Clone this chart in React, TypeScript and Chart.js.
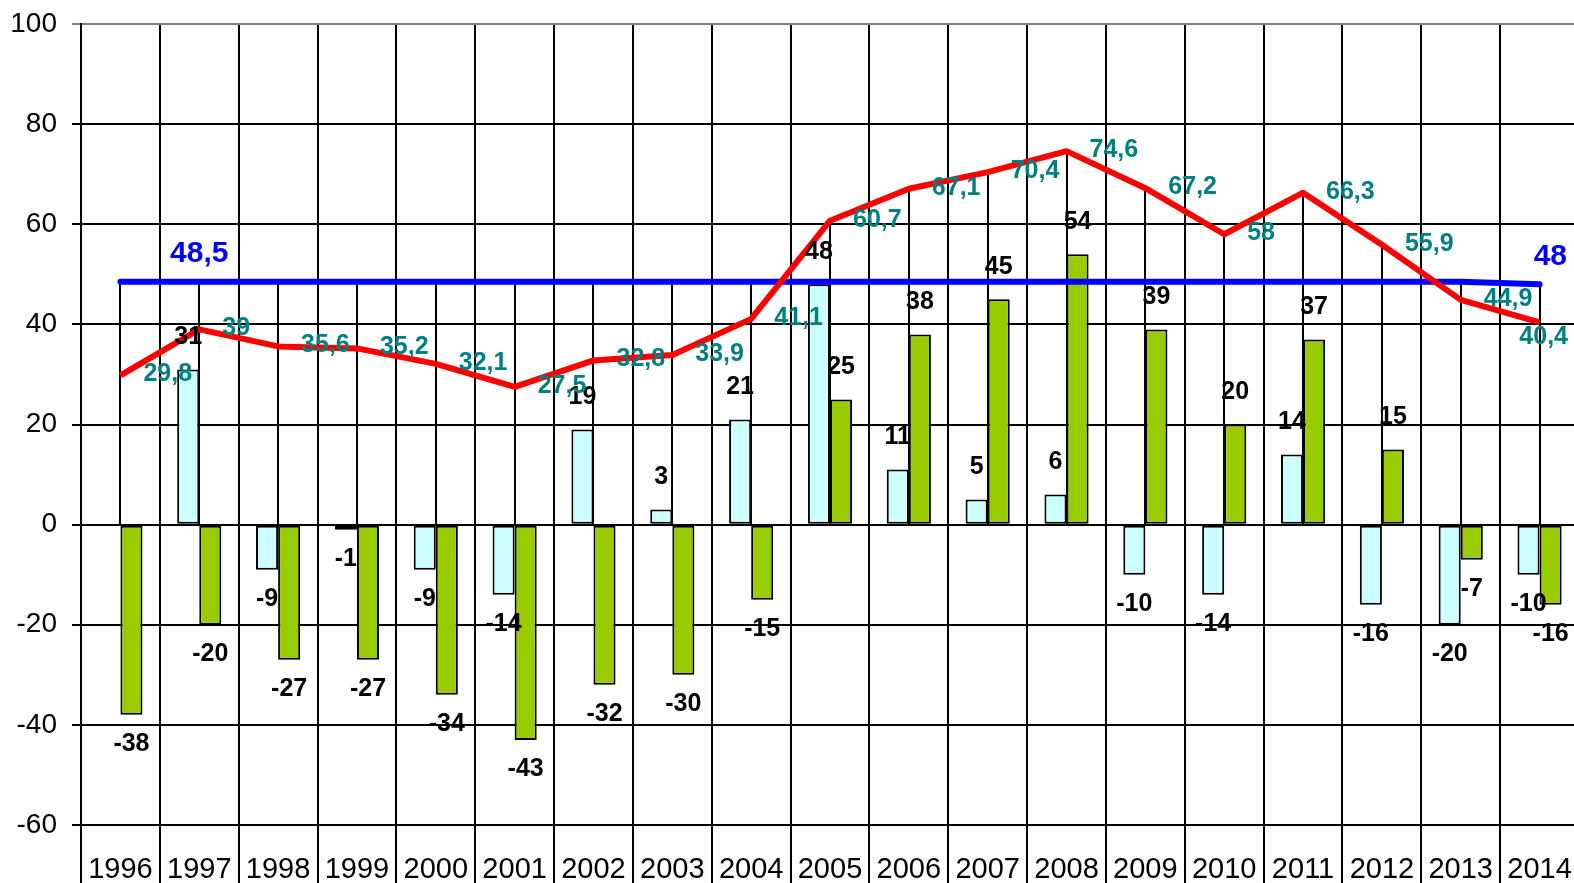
import React, { useEffect, useRef } from 'react';
import { Chart, registerables } from 'chart.js';

Chart.register(...registerables);

const years = ['1996', '1997', '1998', '1999', '2000', '2001', '2002', '2003', '2004', '2005', '2006', '2007', '2008', '2009', '2010', '2011', '2012', '2013', '2014'];
const cyanValues: (number | null)[] = [null, 31, -9, -1, -9, -14, 19, 3, 21, 48, 11, 5, 6, -10, -14, 14, -16, -20, -10];
const greenValues: number[] = [-38, -20, -27, -27, -34, -43, -32, -30, -15, 25, 38, 45, 54, 39, 20, 37, 15, -7, -16];
const redValues: number[] = [29.8, 39, 35.6, 35.2, 32.1, 27.5, 32.8, 33.9, 41.1, 60.7, 67.1, 70.4, 74.6, 67.2, 58, 66.3, 55.9, 44.9, 40.4];
const blueValues: number[] = [48.5, 48.5, 48.5, 48.5, 48.5, 48.5, 48.5, 48.5, 48.5, 48.5, 48.5, 48.5, 48.5, 48.5, 48.5, 48.5, 48.5, 48.5, 48];
const blueLabelIndexes: number[] = [1, 18];
const yMin = -60;
const yMax = 100;
const yStep = 20;

const VIEW_W = 1574;
const VIEW_H = 883;
const CANVAS_W = 1579;

const FONT = "'Liberation Sans', Arial, sans-serif";
const fmt = (v: number) => String(v).replace('.', ',');

const dropLinesPlugin = {
  id: 'dropLines',
  beforeDatasetsDraw(chart: any) {
    const { ctx } = chart;
    const xs = chart.scales.x;
    const ys = chart.scales.y;
    ctx.save();
    ctx.strokeStyle = '#000';
    ctx.lineWidth = 2;
    for (let i = 0; i < years.length; i++) {
      const x = Math.round(xs.getPixelForValue(i));
      const top = ys.getPixelForValue(Math.max(redValues[i], blueValues[i]));
      const bottom = ys.getPixelForValue(0);
      ctx.beginPath();
      ctx.moveTo(x, top);
      ctx.lineTo(x, bottom);
      ctx.stroke();
    }
    ctx.restore();
  },
};

const labelsPlugin = {
  id: 'valueLabels',
  afterDatasetsDraw(chart: any) {
    const { ctx } = chart;
    ctx.save();
    ctx.textBaseline = 'middle';
    ctx.font = `bold 25px ${FONT}`;
    ctx.fillStyle = '#000';
    ctx.textAlign = 'center';
    [0, 1].forEach((di) => {
      const meta = chart.getDatasetMeta(di);
      const vals = di === 0 ? cyanValues : greenValues;
      meta.data.forEach((el: any, i: number) => {
        const v = vals[i];
        if (v === null || v === undefined) return;
        const y = v >= 0 ? el.y - 32 : el.y + 29;
        ctx.fillText(fmt(v), el.x, y);
      });
    });
    ctx.fillStyle = '#008080';
    const redMeta = chart.getDatasetMeta(2);
    redMeta.data.forEach((el: any, i: number) => {
      const t = fmt(redValues[i]);
      if (i === redValues.length - 1) {
        ctx.textAlign = 'right';
        ctx.fillText(t, VIEW_W - 6, el.y + 15);
      } else {
        ctx.textAlign = 'left';
        ctx.fillText(t, el.x + 23, el.y - 1);
      }
    });
    ctx.fillStyle = '#0000FF';
    ctx.font = `bold 30px ${FONT}`;
    const blueMeta = chart.getDatasetMeta(3);
    blueLabelIndexes.forEach((i) => {
      const el = blueMeta.data[i];
      const t = fmt(blueValues[i]);
      if (i === blueValues.length - 1) {
        ctx.textAlign = 'right';
        ctx.fillText(t, VIEW_W - 7, el.y - 28);
      } else {
        ctx.textAlign = 'center';
        ctx.fillText(t, el.x, el.y - 28);
      }
    });
    ctx.restore();
  },
};

export default function App() {
  const ref = useRef<HTMLCanvasElement>(null);
  useEffect(() => {
    document.body.style.margin = '0';
    document.body.style.overflow = 'hidden';
    const canvas = ref.current;
    if (!canvas) return;
    const chart = new Chart(canvas, {
      type: 'bar',
      data: {
        labels: years,
        datasets: [
          {
            type: 'bar',
            data: cyanValues,
            backgroundColor: '#CCFFFF',
            borderColor: '#000',
            borderWidth: 2,
            borderSkipped: false,
            order: 2,
          } as any,
          {
            type: 'bar',
            data: greenValues,
            backgroundColor: '#99CC00',
            borderColor: '#000',
            borderWidth: 2,
            borderSkipped: false,
            order: 2,
          } as any,
          {
            type: 'line',
            data: redValues,
            borderColor: '#FF0000',
            borderWidth: 6,
            pointRadius: 0,
            tension: 0,
            borderJoinStyle: 'round',
            order: 0,
          } as any,
          {
            type: 'line',
            data: blueValues,
            borderColor: '#0000FF',
            borderWidth: 6,
            pointRadius: 0,
            tension: 0,
            borderCapStyle: 'round',
            order: 1,
          } as any,
        ],
      },
      options: {
        responsive: false,
        animation: false,
        events: [],
        layout: { padding: { top: 24, right: 0, left: 0, bottom: 0 } },
        datasets: {
          bar: { categoryPercentage: 0.56, barPercentage: 1 },
        } as any,
        plugins: {
          legend: { display: false },
          tooltip: { enabled: false },
          title: { display: false },
        },
        scales: {
          x: {
            type: 'category',
            offset: true,
            grid: {
              offset: true,
              color: '#000',
              lineWidth: 2,
              drawTicks: true,
              tickLength: 58,
            },
            border: { display: true, color: '#000', width: 2 },
            ticks: {
              autoSkip: false,
              maxRotation: 0,
              minRotation: 0,
              color: '#000',
              font: { family: FONT, size: 29 },
              padding: -30,
            },
            afterFit: (s: any) => {
              s.height = 58;
            },
          } as any,
          y: {
            min: yMin,
            max: yMax,
            grid: {
              color: (c: any) => (c.tick && c.tick.value === yMax ? '#808080' : '#000'),
              lineWidth: 2,
              tickLength: 9,
            },
            border: { display: true, color: '#000', width: 2 },
            ticks: {
              stepSize: yStep,
              color: '#000',
              font: { family: FONT, size: 28 },
              padding: 15,
            },
            afterFit: (s: any) => {
              s.width = 81;
              s.paddingTop = 0;
              s.paddingBottom = 0;
            },
          } as any,
        },
      },
      plugins: [dropLinesPlugin, labelsPlugin],
    });
    return () => chart.destroy();
  }, []);
  return (
    <div style={{ width: VIEW_W, height: VIEW_H, overflow: 'hidden' }}>
      <canvas ref={ref} width={CANVAS_W} height={VIEW_H} style={{ display: 'block' }} />
    </div>
  );
}
